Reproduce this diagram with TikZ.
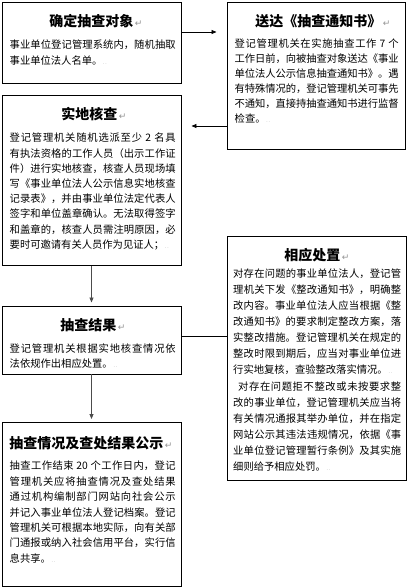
\documentclass[tikz,border=0pt]{standalone}
\usepackage{fontspec}
\setmainfont{Noto Sans CJK SC}
\newfontfamily\symf{DejaVu Sans}
\usetikzlibrary{arrows.meta,fit}
\XeTeXlinebreaklocale "zh"
\XeTeXlinebreakskip=0pt plus 1pt minus 0.2pt
\newcommand\ttmark{\textcolor{gray!85}{\symf\mdseries\fontsize{9}{9}\selectfont\,↵}}
\newcommand\ppmark{\textcolor{gray!80}{\fontsize{5}{5}\selectfont\,.\,.}}
% #1 name, #2 x, #3 first baseline y, #4 pitch, #5 number of full lines, #6 full lines, #7 last line, #8 text width
\newcommand\bodylines[8]{%
  \foreach \ltext [count=\li] in {#6} {
    \node[ln, text width=#8] (#1-\li) at ({#2}, {#3+(\li-1)*#4}) {\parfillskip=0pt\relax\ltext\par};
  }
  \node[lnend] (#1-end) at ({#2}, {#3+#5*#4}) {#7\ppmark};
}
\begin{document}
\begin{tikzpicture}[x=1pt,y=-1pt,
  box/.style={draw, line width=0.9pt, inner sep=0pt},
  ttl/.style={font=\fontsize{14}{16}\selectfont\bfseries, inner sep=0pt, anchor=center},
  lnend/.style={font=\fontsize{10.3}{12}\selectfont, inner sep=0pt, anchor=base west},
  ln/.style={lnend, align=justify},
  arr/.style={line width=0.8pt, -{Triangle[length=5pt,width=4pt]}},
  link/.style={line width=0.8pt}]
\useasboundingbox (0,0) rectangle (408,588);
% boxes
\node[box, fit={(2,2) (181,83)}] (b1) {};
\node[box, fit={(227,2) (405.5,149)}] (b2) {};
\node[box, fit={(2,95) (181,265.5)}] (b3) {};
\node[box, fit={(2,306) (181,374)}] (b4) {};
\node[box, fit={(227,236) (406.5,480.5)}] (b5) {};
\node[box, fit={(2,422) (181,586)}] (b6) {};
% titles
\node[ttl] (t1) at (96,21.5) {确定抽查对象\ttmark};
\node[ttl] (t2) at (323,21) {送达《抽查通知书》\ttmark};
\node[ttl] (t3) at (94,114) {实地核查\ttmark};
\node[ttl] (t4) at (93,325) {抽查结果\ttmark};
\node[ttl] (t5) at (317,255.5) {相应处置\ttmark};
\node[ttl] (t6) at (91,443) {抽查情况及查处结果公示\ttmark};
% bodies
\bodylines{x1}{9.5}{48.2}{16.5}{1}{事业单位登记管理系统内，随机抽取}{事业单位法人名单。}{166pt}
\bodylines{x2}{234.5}{47.6}{14.9}{5}{登记管理机关在实施抽查工作 7 个, 工作日前，向被抽查对象送达《事业, 单位法人公示信息抽查通知书》。遇, 有特殊情况的，登记管理机关可事先, 不通知，直接持抽查通知书进行监督}{检查。}{164pt}
\bodylines{x3}{9.5}{141.9}{15.2}{7}{登记管理机关随机选派至少 2 名具, 有执法资格的工作人员（出示工作证, 件）进行实地核查，核查人员现场填, 写《事业单位法人公示信息实地核查, 记录表》，并由事业单位法定代表人, 签字和单位盖章确认。无法取得签字, 和盖章的，核查人员需注明原因，必}{要时可邀请有关人员作为见证人；}{166pt}
\bodylines{x4}{9.5}{352.9}{14.5}{1}{登记管理机关根据实地核查情况依}{法依规作出相应处置。}{166pt}
\bodylines{x5}{233}{277.3}{16.1}{6}{对存在问题的事业单位法人，登记管, 理机关下发《整改通知书》，明确整, 改内容。事业单位法人应当根据《整, 改通知书》的要求制定整改方案，落, 实整改措施。登记管理机关在规定的, 整改时限到期后，应当对事业单位进}{行实地复核，查验整改落实情况。}{168pt}
\bodylines{x5b}{233}{390.0}{16.1}{5}{\hspace*{5pt}对存在问题拒不整改或未按要求整, 改的事业单位，登记管理机关应当将, 有关情况通报其举办单位，并在指定, 网站公示其违法违规情况，依据《事, 业单位登记管理暂行条例》及其实施}{细则给予相应处罚。}{168pt}
\bodylines{x6}{9.5}{469.9}{15.4}{6}{抽查工作结束 20 个工作日内，登记, 管理机关应将抽查情况及查处结果, 通过机构编制部门网站向社会公示, 并记入事业单位法人登记档案。登记, 管理机关可根据本地实际，向有关部, 门通报或纳入社会信用平台，实行信}{息共享。}{166pt}
% connectors
\coordinate (h1) at (0,32);
\coordinate (h2) at (0,126);
\coordinate (h3) at (0,336);
\draw[arr, shorten >=10pt] (b1.east |- h1) -- (b2.west |- h1);
\draw[arr, shorten >=10pt] (b2.west |- h2) -- (b3.east |- h2);
\draw[arr, draw=black!70, shorten >=3pt] (b3.south) -- (b4.north);
\draw[link] (b4.east |- h3) -- (b5.west |- h3);
\draw[arr, draw=black!70, shorten >=2.5pt] (b4.south) -- (b6.north);
\end{tikzpicture}
\end{document}
